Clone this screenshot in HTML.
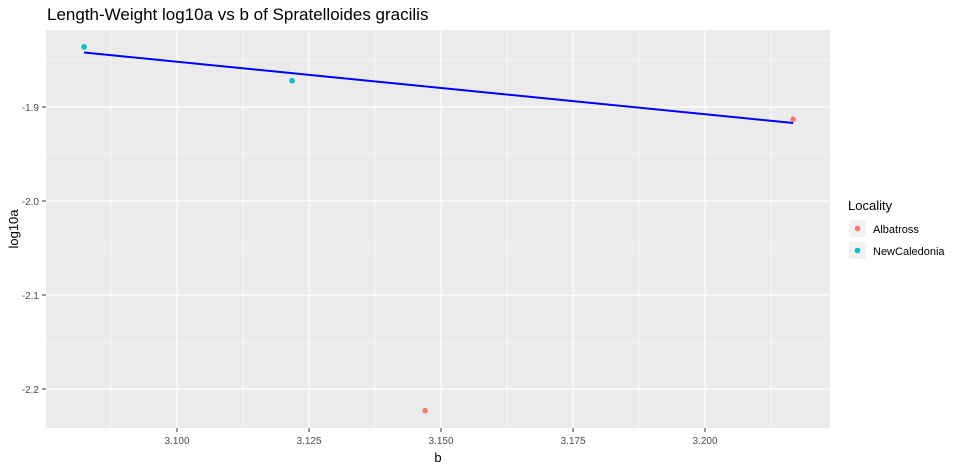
<!DOCTYPE html>
<html><head><meta charset="utf-8"><style>
body{margin:0;background:#fff;font-family:"Liberation Sans",Arial,sans-serif}
svg text{font-family:"Liberation Sans",Arial,sans-serif}
</style></head><body>
<svg id="c" width="959" height="470">
<text x="47" y="20" font-size="17" fill="#000">Length-Weight log10a vs b of Spratelloides gracilis</text>
<rect x="46" y="30" width="784" height="398" fill="#EBEBEB"/>
<g id="grid"></g><g id="marks"></g><g id="axes"></g>
<text x="438" y="462" font-size="13" fill="#000" text-anchor="middle">b</text>
<text transform="translate(18,229) rotate(-90)" font-size="13" fill="#000" text-anchor="middle">log10a</text>
<g>
<text x="848" y="210" font-size="13" fill="#000">Locality</text>
<rect x="849" y="220" width="17" height="17" fill="#F2F2F2"/>
<circle cx="857.5" cy="228.5" r="2.8" fill="#F8766D"/>
<text x="873" y="233" font-size="11" fill="#000">Albatross</text>
<rect x="849" y="242" width="17" height="17" fill="#F2F2F2"/>
<circle cx="857.5" cy="250.5" r="2.8" fill="#00BFC4"/>
<text x="873" y="255" font-size="11" fill="#000">NewCaledonia</text>
</g>
</svg>
<script>
const xTicks=[3.100,3.125,3.150,3.175,3.200];
const xTickLabels=["3.100","3.125","3.150","3.175","3.200"];
const yTicks=[-1.9,-2.0,-2.1,-2.2];
const yTickLabels=["-1.9","-2.0","-2.1","-2.2"];
const pointB=[3.0824,3.1218,3.1470,3.2167];
const pointLog10a=[-1.836,-1.872,-2.223,-1.913];
const pointLocality=["NewCaledonia","NewCaledonia","Albatross","Albatross"];
const lineB=[3.0824,3.2167];
const lineLog10a=[-1.842,-1.917];
const colors={Albatross:"#F8766D",NewCaledonia:"#00BFC4"};
const NS="http://www.w3.org/2000/svg";
const X=v=>177+(v-3.1)*5280;
const Y=v=>107-(v+1.9)*940;
function mk(p,t,a){const e=document.createElementNS(NS,t);for(const k in a)e.setAttribute(k,a[k]);document.getElementById(p).appendChild(e);return e;}
// minor grid
for(let i=0;i<xTicks.length+1;i++){const v=3.0875+i*0.025;const x=X(v);if(x>46&&x<830){
const l=mk('grid','line',{x1:x,x2:x,y1:30,y2:428,stroke:'#fff','stroke-width':0.6});

}}
for(let i=0;i<5;i++){const v=-1.85-i*0.1;const y=Y(v);if(y>30&&y<428){
const l=mk('grid','line',{x1:46,x2:830,y1:y,y2:y,stroke:'#fff','stroke-width':0.6});

}}
xTicks.forEach((v,i)=>{const x=X(v);
const l=mk('grid','line',{x1:x,x2:x,y1:30,y2:428,stroke:'#fff','stroke-width':1.2});


const tk=mk('axes','line',{x1:x,x2:x,y1:428,y2:432,stroke:'#333'});


const t=mk('axes','text',{x:x,y:444,'font-size':10,fill:'#4D4D4D','text-anchor':'middle'});t.textContent=xTickLabels[i];

});
yTicks.forEach((v,i)=>{const y=Y(v);
const l=mk('grid','line',{x1:46,x2:830,y1:y,y2:y,stroke:'#fff','stroke-width':1.2});


const tk=mk('axes','line',{x1:42,x2:46,y1:y,y2:y,stroke:'#333'});


const t=mk('axes','text',{x:39,y:y+4,'font-size':10,fill:'#4D4D4D','text-anchor':'end'});t.textContent=yTickLabels[i];

});
const ln=mk('marks','line',{x1:X(lineB[0]),y1:Y(lineLog10a[0]),x2:X(lineB[1]),y2:Y(lineLog10a[1]),stroke:'#0000FF','stroke-width':2});


pointB.forEach((b,i)=>{const c=mk('marks','circle',{cx:X(b),cy:Y(pointLog10a[i]),r:2.8,fill:colors[pointLocality[i]]});

});
</script>
</body></html>
